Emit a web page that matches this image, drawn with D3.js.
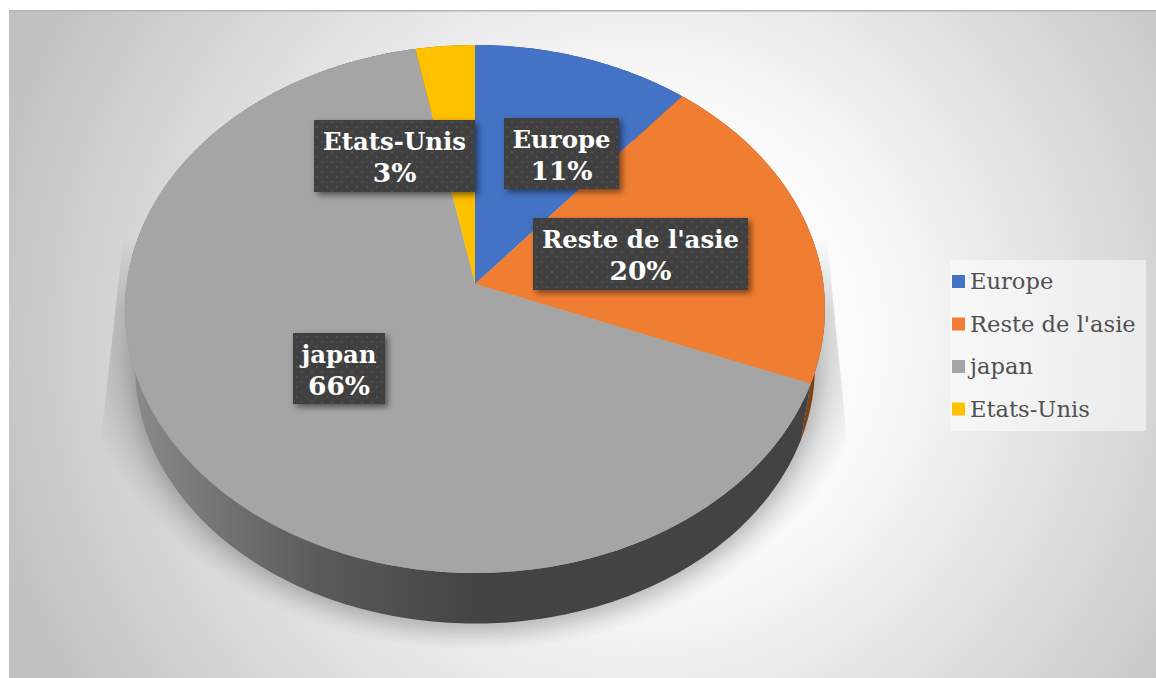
<!DOCTYPE html>
<html>
<head>
<meta charset="utf-8">
<script src="https://cdn.jsdelivr.net/npm/d3@7"></script>
<style>
  html, body { margin: 0; background: #fff; }
  svg { display: block; }
  text { font-family: "DejaVu Serif", serif; }
</style>
</head>
<body>
<div id="chart"></div>
<script>
var categories = ["Europe", "Reste de l'asie", "japan", "Etats-Unis"];
var shares = [11, 20, 66, 3];
var percentLabels = ["11%", "20%", "66%", "3%"];
var sliceColors = ["#4472c4", "#f07e32", "#a5a5a5", "#ffc000"];
var wallColors = ["#284475", "#7f4313", "#444444", "#997300"];

var width = 1156, height = 678;

// label boxes [x, y, w, h], by category
var labelBoxes = [[504, 118, 115, 71], [533, 218, 215, 72], [293, 333, 92, 71], [314, 120, 161, 72]];

var color = d3.scaleOrdinal().domain(categories).range(sliceColors);
var wallColor = d3.scaleOrdinal().domain(categories).range(wallColors);

var pie = d3.pie().sort(null).value(function(d, i) { return shares[i]; });
var arcs = pie(categories);

// perspective of the disc: k is how much the far side shrinks
var k = 0.0947, rx = 348.4, ry = 261.6, cx = 475;
function project(a, scale, y0) {
  var w = 1 + k * Math.cos(a);
  return [cx + scale * rx * Math.sin(a) / w, y0 - scale * ry * Math.cos(a) / w];
}
var topY = 284, bottomY = 343, bottomScale = 0.971;

function samples(a0, a1) {
  var n = Math.max(2, Math.ceil((a1 - a0) * 60));
  return d3.range(n + 1).map(function(i) { return a0 + (a1 - a0) * i / n; });
}
var line = d3.line();

var svg = d3.select("#chart").append("svg").attr("width", width).attr("height", height);
var defs = svg.append("defs");

var bg = defs.append("radialGradient").attr("id", "bg").attr("gradientUnits", "userSpaceOnUse")
  .attr("cx", 640).attr("cy", 340).attr("r", 680);
bg.append("stop").attr("offset", "0").attr("stop-color", "#ffffff");
bg.append("stop").attr("offset", "0.35").attr("stop-color", "#fafafa");
bg.append("stop").attr("offset", "1").attr("stop-color", "#c0c0c0");

var sh = defs.append("radialGradient").attr("id", "shadow").attr("gradientUnits", "userSpaceOnUse")
  .attr("cx", 475).attr("cy", 330).attr("r", 400)
  .attr("gradientTransform", "translate(475 330) scale(1 0.8) translate(-475 -330)");
sh.append("stop").attr("offset", "0.84").attr("stop-color", "#000").attr("stop-opacity", 0.2);
sh.append("stop").attr("offset", "1").attr("stop-color", "#000").attr("stop-opacity", 0);

// the wedges beside the disc fade in from the top, so no top edge shows
var fade = defs.append("linearGradient").attr("id", "fade").attr("gradientUnits", "userSpaceOnUse")
  .attr("x1", 0).attr("x2", 0).attr("y1", 235).attr("y2", 310);
fade.append("stop").attr("offset", "0").attr("stop-color", "#000");
fade.append("stop").attr("offset", "1").attr("stop-color", "#fff");
defs.append("mask").attr("id", "shadowMask").attr("maskUnits", "userSpaceOnUse")
  .attr("x", 0).attr("y", 0).attr("width", width).attr("height", height)
  .append("rect").attr("width", width).attr("height", height).attr("fill", "url(#fade)");

var wallGrad = defs.append("linearGradient").attr("id", "wall").attr("gradientUnits", "userSpaceOnUse")
  .attr("x1", 125).attr("x2", 480).attr("y1", 0).attr("y2", 0);
wallGrad.append("stop").attr("offset", "0").attr("stop-color", "#8c8c8c");
wallGrad.append("stop").attr("offset", "0.55").attr("stop-color", "#5a5a5a");
wallGrad.append("stop").attr("offset", "1").attr("stop-color", "#434343");

var dots = defs.append("pattern").attr("id", "dots").attr("patternUnits", "userSpaceOnUse")
  .attr("width", 10).attr("height", 10);
dots.append("rect").attr("width", 10).attr("height", 10).attr("fill", "#404040");
dots.append("rect").attr("x", 1).attr("y", 1).attr("width", 2).attr("height", 2).attr("fill", "#505050");
dots.append("rect").attr("x", 6).attr("y", 6).attr("width", 2).attr("height", 2).attr("fill", "#505050");

var boxShadow = defs.append("filter").attr("id", "boxShadow")
  .attr("x", "-20%").attr("y", "-20%").attr("width", "140%").attr("height", "140%");
boxShadow.append("feDropShadow").attr("dx", 3).attr("dy", 3).attr("stdDeviation", 3)
  .attr("flood-color", "#000").attr("flood-opacity", 0.5);

var soft = defs.append("filter").attr("id", "soft").attr("filterUnits", "userSpaceOnUse")
  .attr("x", 0).attr("y", 0).attr("width", width).attr("height", height);
soft.append("feGaussianBlur").attr("stdDeviation", 9);

// panel
svg.append("rect").attr("x", 9).attr("y", 10).attr("width", width - 9).attr("height", height - 10)
  .attr("fill", "url(#bg)");
svg.append("rect").attr("x", 9).attr("y", 10).attr("width", width - 9).attr("height", 1.5)
  .attr("fill", "#b4b4b4");

// cast shadow behind the disc
svg.append("path")
  .attr("d", "M123,240 L100,450 C100,560 250,650 475,650 C700,650 848,560 848,450 L827,240 Z")
  .attr("fill", "url(#shadow)")
  .attr("mask", "url(#shadowMask)");
svg.append("ellipse")
  .attr("cx", cx).attr("cy", 374).attr("rx", 344).attr("ry", 258)
  .attr("fill", "#000").attr("fill-opacity", 0.14)
  .attr("filter", "url(#soft)");

// side wall
var wallG = svg.append("g");
arcs.forEach(function(d) {
  var as = samples(d.startAngle, d.endAngle);
  var outer = as.map(function(a) { return project(a, 1, topY); });
  var inner = as.slice().reverse().map(function(a) { return project(a, bottomScale, bottomY); });
  wallG.append("path")
    .attr("d", line(outer.concat(inner)) + "Z")
    .attr("fill", d.data === "japan" ? "url(#wall)" : wallColor(d.data));
});

// top face
var apex = [cx, topY];
svg.append("g").selectAll("path").data(arcs).join("path")
  .attr("d", function(d) {
    var pts = samples(d.startAngle, d.endAngle).map(function(a) { return project(a, 1, topY); });
    return line([apex].concat(pts)) + "Z";
  })
  .attr("fill", function(d) { return color(d.data); });

// data labels
var labels = svg.append("g").selectAll("g").data(arcs).join("g");
labels.append("rect")
  .attr("x", function(d) { return labelBoxes[d.index][0]; })
  .attr("y", function(d) { return labelBoxes[d.index][1]; })
  .attr("width", function(d) { return labelBoxes[d.index][2]; })
  .attr("height", function(d) { return labelBoxes[d.index][3]; })
  .attr("fill", "url(#dots)")
  .attr("filter", "url(#boxShadow)");
labels.append("text")
  .attr("x", function(d) { return labelBoxes[d.index][0] + labelBoxes[d.index][2] / 2; })
  .attr("y", function(d) { return labelBoxes[d.index][1] + 30; })
  .attr("text-anchor", "middle").attr("fill", "#fff").attr("font-weight", "bold").attr("font-size", 24.4)
  .text(function(d) { return d.data; });
labels.append("text")
  .attr("x", function(d) { return labelBoxes[d.index][0] + labelBoxes[d.index][2] / 2; })
  .attr("y", function(d) { return labelBoxes[d.index][1] + 62; })
  .attr("text-anchor", "middle").attr("fill", "#fff").attr("font-weight", "bold").attr("font-size", 26.5)
  .text(function(d) { return percentLabels[d.index]; });

// legend
svg.append("rect").attr("x", 950).attr("y", 260).attr("width", 196).attr("height", 171)
  .attr("fill", "#fff").attr("fill-opacity", 0.5);
var legendY = d3.scalePoint().domain(categories).range([281.5, 409]);
var legend = svg.append("g").selectAll("g").data(categories).join("g")
  .attr("transform", function(d) { return "translate(0," + legendY(d) + ")"; });
legend.append("rect").attr("x", 952).attr("y", -6.5).attr("width", 13).attr("height", 13)
  .attr("fill", function(d) { return color(d); });
legend.append("text").attr("x", 970).attr("y", 7.5)
  .attr("font-size", 22.6).attr("fill", "#505050")
  .text(function(d) { return d; });
</script>
</body>
</html>
